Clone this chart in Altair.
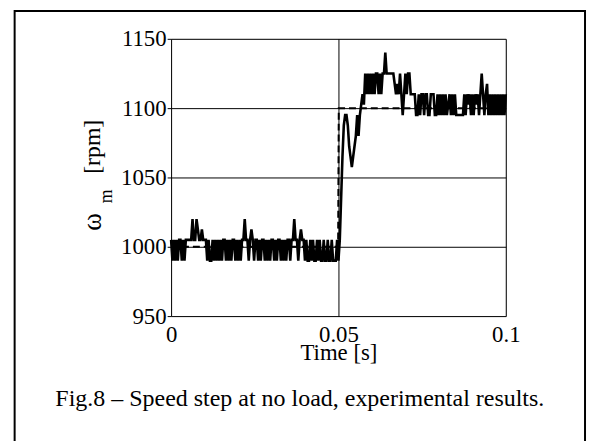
import altair as alt
import pandas as pd

# measured speed [rpm], sampled every 0.4 ms (blocks of 10 ms)
speed_00_10 = [1005, 990, 1005, 990, 1005, 990, 1005, 1005, 990, 1005, 990, 1005, 1005,
               1005, 1005, 1005, 1020, 1005, 1005, 1020, 1012.5, 1005, 1005, 1012.5, 1005]
speed_10_20 = [1005, 1005, 990, 1005, 990, 990, 1005, 990, 1005, 990, 1005, 990, 1005,
               990, 1005, 1005, 990, 1005, 990, 1005, 990, 1005, 1005, 990, 1005]
speed_20_30 = [990, 1005, 990, 1005, 1005, 1020, 1005, 1005, 990, 1005, 1012.5, 1005, 990,
               1005, 1005, 990, 1005, 990, 1005, 1005, 990, 1005, 990, 1005, 990]
speed_30_40 = [1005, 1005, 990, 1005, 990, 1005, 1005, 990, 1005, 990, 1005, 990, 1005,
               1005, 990, 1005, 1005, 1020, 1005, 1005, 990, 1005, 1012.5, 1005, 1005]
speed_40_50 = [990, 1005, 990, 990, 1005, 990, 1005, 990, 990, 1005, 990, 1005, 990,
               990, 1005, 990, 990, 1005, 990, 990, 1005, 990, 990, 990, 1005]
speed_50_60 = [990, 1005, 1035, 1065, 1087.5, 1095, 1095, 1087.5, 1072.5, 1065, 1057.5, 1065, 1072.5,
               1080, 1095, 1080, 1095, 1102.5, 1110, 1102.5, 1125, 1110, 1125, 1110, 1125]
speed_60_70 = [1110, 1125, 1110, 1125, 1125, 1110, 1125, 1110, 1125, 1125, 1140, 1125, 1125,
               1125, 1125, 1125, 1125, 1117.5, 1110, 1117.5, 1110, 1125, 1110, 1095, 1110]
speed_70_80 = [1125, 1110, 1125, 1125, 1110, 1110, 1110, 1110, 1095, 1095, 1110, 1095, 1110,
               1110, 1095, 1110, 1110, 1095, 1095, 1110, 1110, 1110, 1095, 1095, 1110]
speed_80_90 = [1095, 1110, 1095, 1110, 1095, 1110, 1095, 1102.5, 1110, 1095, 1110, 1095, 1110,
               1095, 1095, 1095, 1095, 1095, 1095, 1110, 1095, 1110, 1102.5, 1110, 1095]
speed_90_100 = [1110, 1095, 1110, 1102.5, 1110, 1095, 1110, 1125, 1110, 1095, 1110, 1117.5, 1095,
                1110, 1095, 1110, 1095, 1110, 1095, 1110, 1095, 1110, 1095, 1110, 1095, 1110]
sample_period = 0.0004

# speed reference (dashed)
ref_time = [0.0, 0.0499, 0.0501, 0.1]
ref_speed = [1000, 1000, 1100, 1100]

x_ticks = [0, 0.05, 0.1]
y_ticks = [950, 1000, 1050, 1100, 1150]
x_title = "Time [s]"
caption = "Fig.8 – Speed step at no load, experimental results."

speed = (speed_00_10 + speed_10_20 + speed_20_30 + speed_30_40 + speed_40_50 +
         speed_50_60 + speed_60_70 + speed_70_80 + speed_80_90 + speed_90_100)
meas = pd.DataFrame({"t": [round(i * sample_period, 6) for i in range(len(speed))], "w": speed})
ref = pd.DataFrame({"t": ref_time, "w": ref_speed})

FONT = "Liberation Serif"
W, H = 338, 280

xs = alt.Scale(domain=[0, 0.1], nice=False)
ys = alt.Scale(domain=[950, 1150], nice=False)

xaxis = alt.Axis(values=x_ticks, format="~g", title=x_title, grid=True, gridColor="black",
                 gridWidth=1, domain=False, ticks=False, labelPadding=8, labelFlush=False,
                 labelOverlap=False, labelFont=FONT, labelFontSize=23, labelColor="black",
                 titleFont=FONT, titleFontSize=23, titleFontWeight="normal", titleColor="black",
                 titleBaseline="alphabetic", titleY=44)
yaxis = alt.Axis(values=y_ticks, format="d", title=None, grid=True, gridColor="black", gridWidth=1,
                 domain=False, tickSize=4, tickColor="black", labelPadding=1, labelFlush=False,
                 labelOverlap=False, labelFont=FONT, labelFontSize=23, labelColor="black")

base_m = alt.Chart(meas).mark_line(color="black", strokeWidth=2.6, strokeJoin="miter").encode(
    x=alt.X("t:Q", scale=xs, axis=xaxis),
    y=alt.Y("w:Q", scale=ys, axis=yaxis),
)
base_r = alt.Chart(ref).mark_line(color="black", strokeWidth=2, strokeDash=[7, 4]).encode(
    x=alt.X("t:Q", scale=xs),
    y=alt.Y("w:Q", scale=ys),
)

one = pd.DataFrame({"a": [0]})
ytitle_w = alt.Chart(one).mark_text(text="ω", font=FONT, fontSize=27, angle=270,
                                    align="center", baseline="alphabetic", color="black").encode(
    x=alt.value(-71), y=alt.value(185))
ytitle_m = alt.Chart(one).mark_text(text="m", font=FONT, fontSize=18, angle=270,
                                    align="center", baseline="alphabetic", color="black").encode(
    x=alt.value(-60), y=alt.value(159))
ytitle_r = alt.Chart(one).mark_text(text="[rpm]", font=FONT, fontSize=24, angle=270,
                                    align="center", baseline="alphabetic", color="black").encode(
    x=alt.value(-72), y=alt.value(109))
cap = alt.Chart(one).mark_text(text=caption, font=FONT, fontSize=24.2, align="center",
                               baseline="alphabetic", color="black").encode(
    x=alt.value(130), y=alt.value(371))
border = alt.Chart(one).mark_rect(fillOpacity=0, stroke="black", strokeWidth=2).encode(
    x=alt.value(-158), x2=alt.value(418), y=alt.value(-28), y2=alt.value(430))

chart = alt.layer(border, base_r, base_m, ytitle_w, ytitle_m, ytitle_r, cap).properties(
    width=W, height=H,
    autosize=alt.AutoSizeParams(type="none"),
    padding={"left": 164.7, "top": 29, "right": 82, "bottom": 124},
).configure_view(stroke="black", strokeWidth=2).configure(background="white")

chart.save("out.html", embed_options={"renderer": "svg", "actions": False})
